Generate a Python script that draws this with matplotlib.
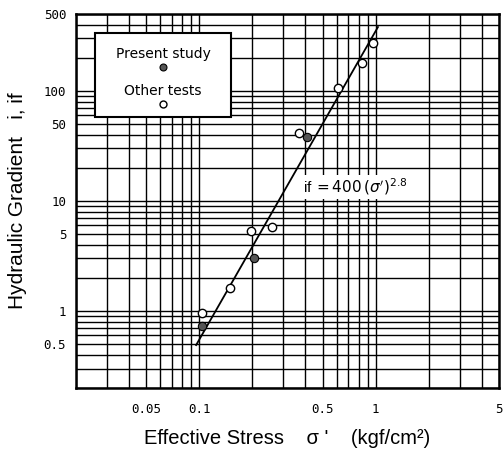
import matplotlib
matplotlib.use("Agg")
import matplotlib.pyplot as plt
from matplotlib.ticker import FixedLocator, LogLocator, NullFormatter, FixedFormatter
from matplotlib.patches import Rectangle

# present study (filled) and other tests (open)
present_x = [0.103, 0.205, 0.41]
present_y = [0.73, 3.03, 38.2]
other_x = [0.103, 0.150, 0.197, 0.257, 0.37, 0.61, 0.833, 0.96]
other_y = [0.96, 1.62, 5.34, 5.8, 41.5, 106, 180, 273]

# fitted line  if = 400 (sigma')^2.8, ends as drawn
fit_x = [0.096, 1.03]
fit_y = [0.49, 380]

xticks = [0.05, 0.1, 0.5, 1, 5]
xticklabels = ["0.05", "0.1", "0.5", "1", "5"]
yticks = [0.5, 1, 5, 10, 50, 100, 500]
yticklabels = ["0.5", "1", "5", "10", "50", "100", "500"]

fig = plt.figure(figsize=(5.03, 4.5), dpi=100)
ax = fig.add_axes([0.151, 0.138, 0.841, 0.831])
ax.set_xscale("log")
ax.set_yscale("log")
ax.set_xlim(0.02, 5)
ax.set_ylim(0.2, 500)

ax.xaxis.set_major_locator(FixedLocator(xticks))
ax.xaxis.set_major_formatter(FixedFormatter(xticklabels))
ax.yaxis.set_major_locator(FixedLocator(yticks))
ax.yaxis.set_major_formatter(FixedFormatter(yticklabels))
for axis in (ax.xaxis, ax.yaxis):
    axis.set_minor_locator(LogLocator(base=10, subs=range(1, 10), numticks=20))
    axis.set_minor_formatter(NullFormatter())

ax.grid(which="both", color="black", lw=1.0)
ax.tick_params(which="both", length=0)
ax.tick_params(axis="x", pad=11)
ax.tick_params(axis="y", pad=7)
for lab in ax.get_xticklabels() + ax.get_yticklabels():
    lab.set_fontfamily("DejaVu Sans Mono")
    lab.set_fontsize(9)
for sp in ax.spines.values():
    sp.set_linewidth(1.8)

ax.plot(fit_x, fit_y, color="black", lw=1.3, zorder=3)
ax.plot(other_x, other_y, "o", ms=6, mfc="white", mec="black", mew=1.0, zorder=4)
ax.plot(present_x, present_y, "o", ms=6, mfc="#555555", mec="black", mew=0.8, zorder=4)

ax.text(0.385, 13.4, r"if$\,=400\,(\sigma')^{2.8}$", fontsize=11, family="Liberation Sans",
        va="center", ha="left", zorder=5,
        bbox=dict(facecolor="white", edgecolor="none", pad=1))

# legend box
ax.add_patch(Rectangle((0.045, 0.725), 0.321, 0.224, transform=ax.transAxes,
                       facecolor="white", edgecolor="black", lw=1.5, zorder=5))
ax.text(0.206, 0.893, "Present study", transform=ax.transAxes, ha="center", va="center",
        fontsize=10, zorder=6)
ax.plot([0.206], [0.858], "o", ms=5, mfc="#555555", mec="black", mew=0.8,
        transform=ax.transAxes, zorder=6)
ax.text(0.206, 0.794, "Other tests", transform=ax.transAxes, ha="center", va="center",
        fontsize=10, zorder=6)
ax.plot([0.206], [0.759], "o", ms=5, mfc="white", mec="black", mew=1.0,
        transform=ax.transAxes, zorder=6)

ax.set_xlabel("Effective Stress    \u03c3 '    (kgf/cm\u00b2)", fontsize=14.5,
              family="Liberation Sans", labelpad=9)
ax.set_ylabel("Hydraulic Gradient   i, if", fontsize=15, family="Liberation Sans",
              labelpad=12)

fig.savefig("out.png", dpi=100)
